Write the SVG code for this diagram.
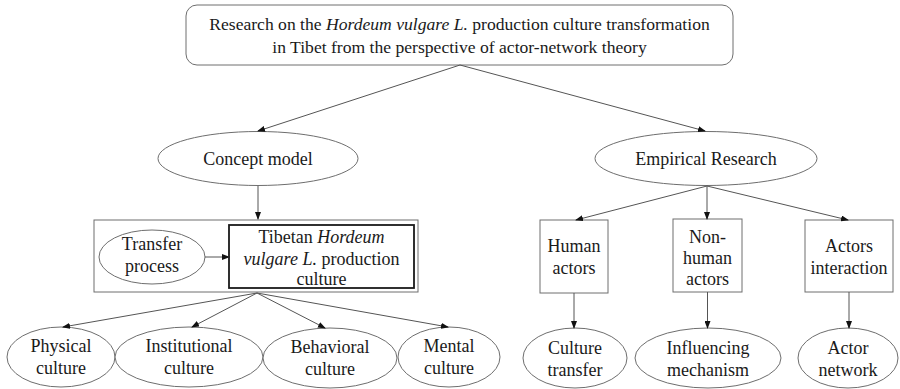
<svg xmlns="http://www.w3.org/2000/svg" width="900" height="389" viewBox="0 0 900 389">
<defs>
<marker id="ah" markerWidth="8" markerHeight="6" refX="7" refY="3" orient="auto" markerUnits="userSpaceOnUse">
<path d="M0,0 L8,3 L0,6 Z" fill="#111"/>
</marker>
<style>
.t{font-family:"Liberation Serif","Times New Roman",serif;font-size:18px;fill:#1a1a1a;text-anchor:middle}
.s{font-size:17.6px}
.i{font-style:italic}
.n{fill:#fff;stroke:#6e6e6e;stroke-width:1}
.b{fill:#fff;stroke:#1a1a1a;stroke-width:1.8}
.c{stroke:#555;stroke-width:1;fill:none;marker-end:url(#ah)}
</style>
</defs>
<rect width="900" height="389" fill="#fff"/>
<g id="top">
<rect class="n" x="186" y="5" width="547" height="60" rx="11"/>
<text class="t s" x="459.5" y="30">Research on the <tspan class="i">Hordeum vulgare L.</tspan> production culture transformation</text>
<text class="t s" x="459.5" y="53">in Tibet from the perspective of actor-network theory</text>
</g>
<g id="concept">
<ellipse class="n" cx="258" cy="158.5" rx="100" ry="27"/>
<text class="t" x="258" y="164.5">Concept model</text>
</g>
<g id="empirical">
<ellipse class="n" cx="706" cy="158.5" rx="111" ry="27"/>
<text class="t" x="706" y="164.5">Empirical Research</text>
</g>
<g id="group">
<rect class="n" x="94" y="220" width="324" height="72"/>
</g>
<g id="transfer">
<ellipse class="n" cx="152" cy="257" rx="53" ry="27"/>
<text class="t" x="152" y="250">Transfer</text>
<text class="t" x="152" y="272">process</text>
</g>
<g id="tibetan">
<rect class="b" x="229" y="225" width="185" height="63"/>
<text class="t" x="321.5" y="243"><tspan>Tibetan </tspan><tspan class="i">Hordeum</tspan></text>
<text class="t" x="321.5" y="264.5"><tspan class="i">vulgare L.</tspan><tspan> production</tspan></text>
<text class="t" x="321.5" y="285">culture</text>
</g>
<g id="physical">
<ellipse class="n" cx="61" cy="357" rx="54" ry="30"/>
<text class="t" x="61" y="352">Physical</text>
<text class="t" x="61" y="374">culture</text>
</g>
<g id="institutional">
<ellipse class="n" cx="189" cy="357" rx="74" ry="30"/>
<text class="t" x="189" y="352">Institutional</text>
<text class="t" x="189" y="374">culture</text>
</g>
<g id="behavioral">
<ellipse class="n" cx="330" cy="358" rx="67" ry="30"/>
<text class="t" x="330" y="353">Behavioral</text>
<text class="t" x="330" y="375">culture</text>
</g>
<g id="mental">
<ellipse class="n" cx="449" cy="357" rx="51" ry="30"/>
<text class="t" x="449" y="352">Mental</text>
<text class="t" x="449" y="374">culture</text>
</g>
<g id="human">
<rect class="n" x="540" y="220" width="68" height="73"/>
<text class="t" x="574" y="252">Human</text>
<text class="t" x="574" y="274">actors</text>
</g>
<g id="nonhuman">
<rect class="n" x="673" y="219" width="69" height="73"/>
<text class="t" x="707.5" y="243">Non-</text>
<text class="t" x="707.5" y="264">human</text>
<text class="t" x="707.5" y="285">actors</text>
</g>
<g id="interaction">
<rect class="n" x="805" y="220" width="88" height="72"/>
<text class="t" x="849" y="252">Actors</text>
<text class="t" x="849" y="274">interaction</text>
</g>
<g id="culturetransfer">
<ellipse class="n" cx="575" cy="358" rx="52" ry="30"/>
<text class="t" x="575" y="354">Culture</text>
<text class="t" x="575" y="376">transfer</text>
</g>
<g id="influencing">
<ellipse class="n" cx="708" cy="358" rx="73" ry="30"/>
<text class="t" x="708" y="354">Influencing</text>
<text class="t" x="708" y="376">mechanism</text>
</g>
<g id="actornetwork">
<ellipse class="n" cx="848" cy="358" rx="50" ry="30"/>
<text class="t" x="848" y="354">Actor</text>
<text class="t" x="848" y="376">network</text>
</g>
<g id="connectors">
<line class="c" x1="460" y1="65" x2="258" y2="131"/>
<line class="c" x1="460" y1="65" x2="705" y2="131"/>
<line class="c" x1="258" y1="186" x2="258" y2="219"/>
<line class="c" x1="205" y1="257" x2="229" y2="257"/>
<line class="c" x1="257" y1="293" x2="63" y2="327"/>
<line class="c" x1="257" y1="293" x2="192" y2="327"/>
<line class="c" x1="257" y1="293" x2="325" y2="328"/>
<line class="c" x1="257" y1="293" x2="448" y2="327"/>
<line class="c" x1="707" y1="186" x2="576" y2="220"/>
<line class="c" x1="707" y1="186" x2="707" y2="219"/>
<line class="c" x1="707" y1="186" x2="848" y2="220"/>
<line class="c" x1="574" y1="293" x2="574" y2="328"/>
<line class="c" x1="707.5" y1="292" x2="707.5" y2="328"/>
<line class="c" x1="849" y1="292" x2="849" y2="328"/>
</g>
</svg>
